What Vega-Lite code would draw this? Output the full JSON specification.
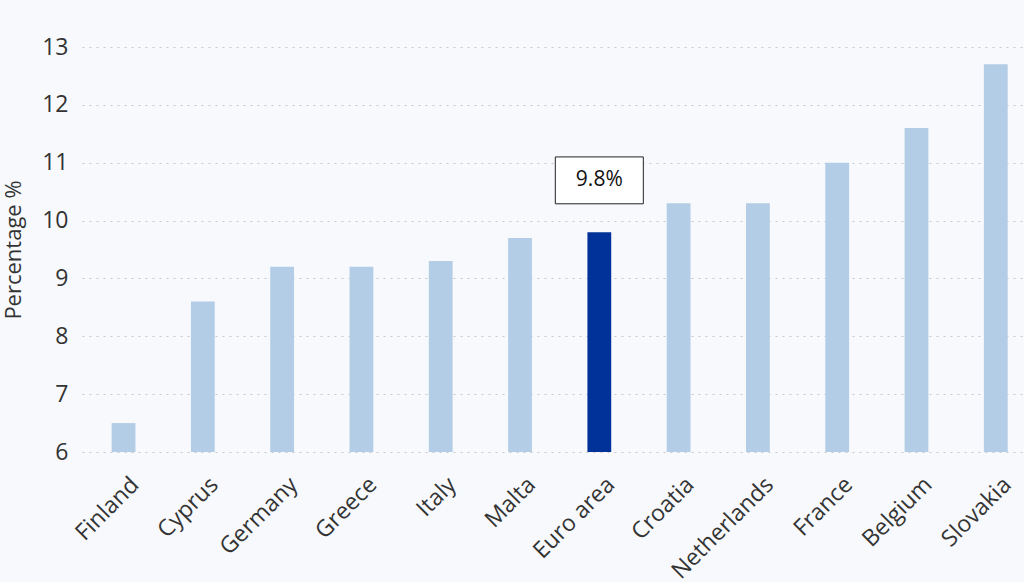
{
  "$schema": "https://vega.github.io/schema/vega-lite/v6.json",
  "width": 942,
  "height": 405,
  "autosize": {"type": "none"},
  "padding": {"left": 82, "top": 47, "right": 0, "bottom": 130},
  "background": "#f7f9fc",
  "config": {
    "view": {"stroke": null},
    "font": "Open Sans"
  },
  "datasets": {
    "bars": [
      {"country": "Finland", "value": 6.5},
      {"country": "Cyprus", "value": 8.6},
      {"country": "Germany", "value": 9.2},
      {"country": "Greece", "value": 9.2},
      {"country": "Italy", "value": 9.3},
      {"country": "Malta", "value": 9.7},
      {"country": "Euro area", "value": 9.8},
      {"country": "Croatia", "value": 10.3},
      {"country": "Netherlands", "value": 10.3},
      {"country": "France", "value": 11.0},
      {"country": "Belgium", "value": 11.6},
      {"country": "Slovakia", "value": 12.7}
    ],
    "note": [
      {"country": "Euro area", "label": "9.8%", "lo": 10.29, "hi": 11.1, "mid": 10.7}
    ]
  },
  "layer": [
    {
      "data": {"name": "bars"},
      "mark": {"type": "bar"},
      "encoding": {
        "x": {
          "field": "country", "type": "nominal", "sort": null,
          "scale": {"paddingInner": 0.7, "paddingOuter": 0.29, "align": 0.645},
          "axis": {
            "title": null, "labelAngle": -45, "labelFontSize": 23, "labelColor": "#333333",
            "labelPadding": 21, "labelOffset": 4, "ticks": false, "domain": false, "grid": false
          }
        },
        "y": {
          "field": "value", "type": "quantitative",
          "scale": {"domain": [6, 13], "nice": false, "zero": false},
          "axis": {
            "title": "Percentage %", "titleFontSize": 22, "titleFontWeight": "normal", "titleColor": "#333333",
            "titleX": -57,
            "values": [6, 7, 8, 9, 10, 11, 12, 13], "format": "d",
            "labelFontSize": 23, "labelColor": "#333333", "labelPadding": 14,
            "ticks": false, "domain": false,
            "gridColor": "#c8c8c8", "gridDash": [2, 5], "gridWidth": 1
          }
        },
        "y2": {"datum": 6},
        "color": {
          "condition": {"test": "datum.country === 'Euro area'", "value": "#003299"},
          "value": "#b3cde6"
        }
      }
    },
    {
      "data": {"name": "note"},
      "mark": {"type": "rect", "fill": "white", "stroke": "#222222", "strokeWidth": 1, "width": 88},
      "encoding": {
        "x": {"field": "country", "type": "nominal", "sort": null},
        "y": {"field": "lo", "type": "quantitative"},
        "y2": {"field": "hi"}
      }
    },
    {
      "data": {"name": "note"},
      "mark": {"type": "text", "fontSize": 21, "color": "#111111", "baseline": "middle", "align": "center"},
      "encoding": {
        "x": {"field": "country", "type": "nominal", "sort": null},
        "y": {"field": "mid", "type": "quantitative"},
        "text": {"field": "label"}
      }
    }
  ]
}
